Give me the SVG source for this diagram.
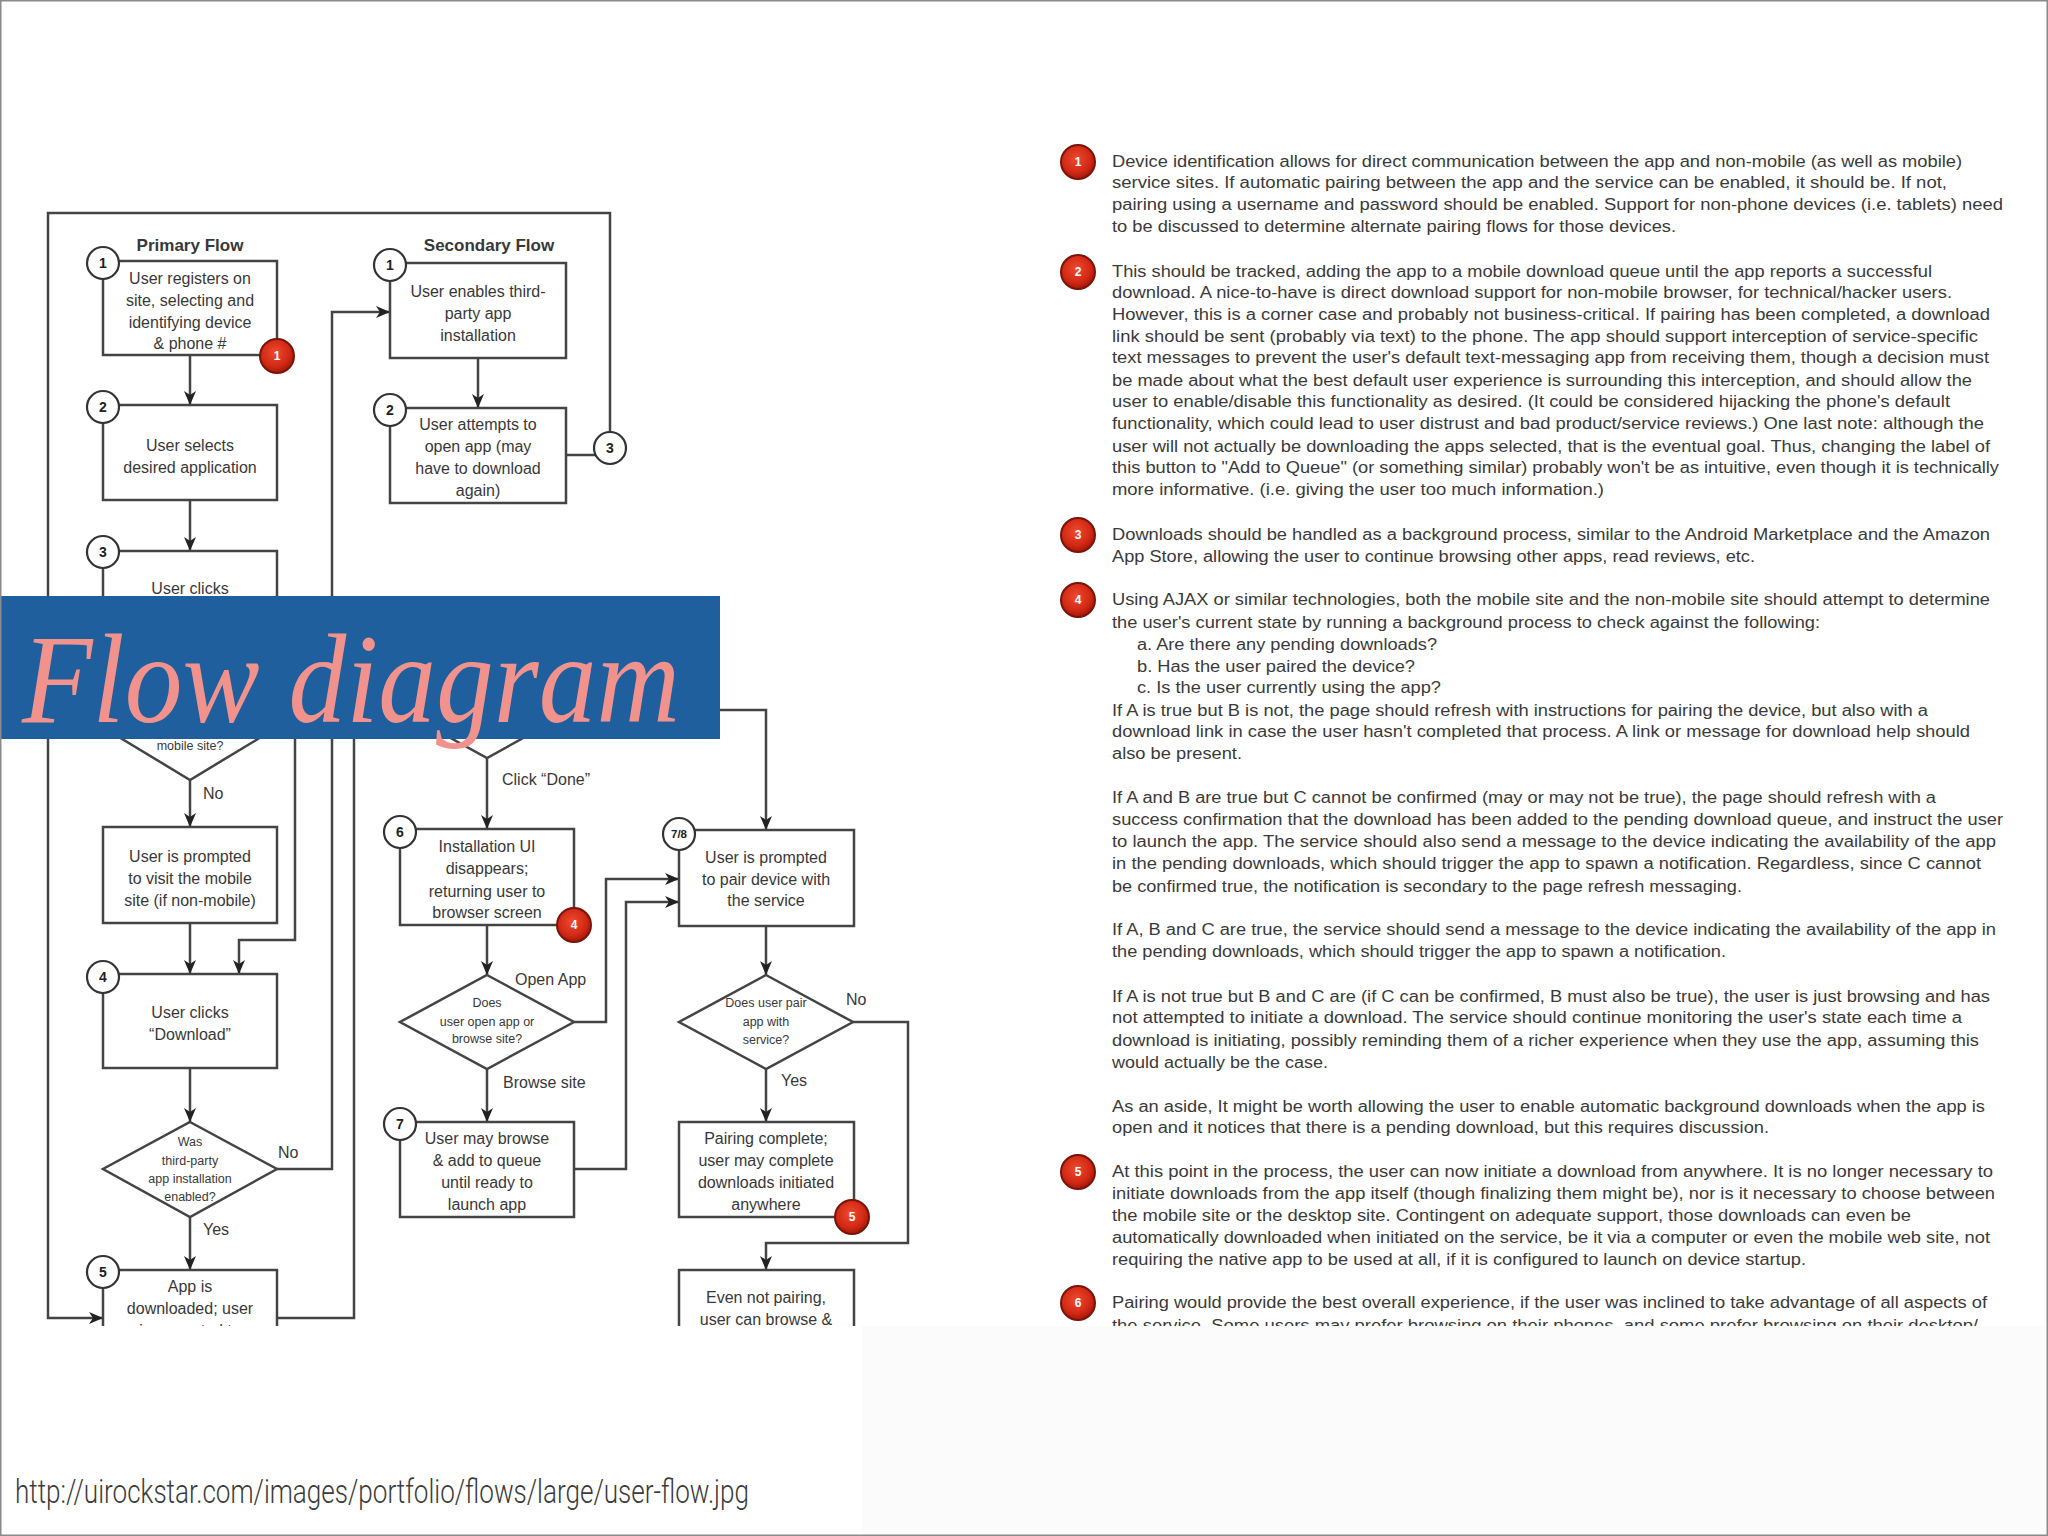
<svg xmlns="http://www.w3.org/2000/svg" width="2048" height="1536" viewBox="0 0 2048 1536">
<defs>
<style>
.box{fill:#fff;stroke:#444;stroke-width:2.5}
.dia{fill:#fff;stroke:#444;stroke-width:2.5}
.ln{fill:none;stroke:#444;stroke-width:2.5}
.arr{marker-end:url(#ah)}
.t{font-family:"Liberation Sans",Arial,sans-serif;font-size:16px;fill:#383838;text-anchor:middle}
.ts{font-size:12.5px}
.ttl{font-weight:bold;font-size:17px}
.lbl{font-family:"Liberation Sans",Arial,sans-serif;font-size:16px;fill:#383838}
.num{fill:#fff;stroke:#333;stroke-width:2.2}
.numt{font-family:"Liberation Sans",Arial,sans-serif;font-weight:bold;font-size:14px;fill:#222;text-anchor:middle}
.bdg{fill:url(#rg);stroke:#7a140a;stroke-width:2}
.bt{font-family:"Liberation Sans",Arial,sans-serif;font-weight:bold;font-size:12px;fill:#fff;text-anchor:middle}
.p{font-family:"Liberation Sans",Arial,sans-serif;font-size:16px;fill:#3a3a3a}
</style>
<marker id="ah" markerUnits="userSpaceOnUse" markerWidth="16" markerHeight="14" refX="14" refY="6" orient="auto">
<path d="M0,0 L14,6 L0,12 L4,6 z" fill="#222"/>
</marker>
<radialGradient id="rg" cx="0.45" cy="0.4" r="0.6">
<stop offset="0" stop-color="#f04a30"/>
<stop offset="0.7" stop-color="#d02814"/>
<stop offset="1" stop-color="#a01808"/>
</radialGradient>
<clipPath id="pic"><rect x="0" y="0" width="2048" height="1326"/></clipPath>
</defs>

<rect x="0" y="0" width="2048" height="1536" fill="#fbfbfb"/>
<rect x="0" y="0" width="2048" height="1326" fill="#fff"/>
<rect x="0" y="1326" width="862" height="210" fill="#fff"/>

<g clip-path="url(#pic)">
<g id="connectors">
<path class="ln arr" d="M190,355 V405"/>
<path class="ln arr" d="M190,500 V551"/>
<path class="ln arr" d="M190,650 V676"/>
<path class="ln arr" d="M190,780 V827"/>
<path class="ln arr" d="M276,728 H295 V940 H239 V974"/>
<path class="ln arr" d="M190,923 V974"/>
<path class="ln arr" d="M190,1068 V1122"/>
<path class="ln arr" d="M277,1169 H332 V312 H390"/>
<path class="ln arr" d="M190,1217 V1270"/>
<path class="ln arr" d="M478,358 V408"/>
<path class="ln" d="M566,455 H597"/>
<path class="ln arr" d="M610,432 V213 H48 V1318 H103"/>
<path class="ln arr" d="M277,1318 H354 V710 H400"/>
<path class="ln arr" d="M574,710 H766 V830"/>
<path class="ln arr" d="M487,758 V829"/>
<path class="ln arr" d="M487,925 V975"/>
<path class="ln arr" d="M574,1022 H606 V879 H679"/>
<path class="ln arr" d="M487,1069 V1122"/>
<path class="ln arr" d="M574,1169 H626 V902 H679"/>
<path class="ln arr" d="M766,926 V975"/>
<path class="ln arr" d="M766,1069 V1122"/>
<path class="ln arr" d="M853,1022 H908 V1243 H766 V1270"/>
</g>

<g id="titles">
<text class="t ttl" x="190" y="251">Primary Flow</text>
<text class="t ttl" x="489" y="251">Secondary Flow</text>
</g>

<g id="p1">
<rect class="box" x="103" y="261" width="174" height="94"/>
<text class="t"><tspan x="190" y="284">User registers on</tspan><tspan x="190" y="306">site, selecting and</tspan><tspan x="190" y="328">identifying device</tspan><tspan x="190" y="349">&amp; phone #</tspan></text>
<circle class="num" cx="103" cy="263" r="16"/><text class="numt" x="103" y="268">1</text>
<circle class="bdg" cx="277" cy="356" r="17"/><text class="bt" x="277" y="360">1</text>
</g>

<g id="p2">
<rect class="box" x="103" y="405" width="174" height="95"/>
<text class="t"><tspan x="190" y="451">User selects</tspan><tspan x="190" y="473">desired application</tspan></text>
<circle class="num" cx="103" cy="407" r="16"/><text class="numt" x="103" y="412">2</text>
</g>

<g id="p3">
<rect class="box" x="103" y="551" width="174" height="99"/>
<text class="t" x="190" y="594">User clicks</text>
<circle class="num" cx="103" cy="552" r="16"/><text class="numt" x="103" y="557">3</text>
</g>

<g id="d-mobile">
<polygon class="dia" points="190,676 276,728 190,780 104,728"/>
<text class="t ts" x="190" y="750">mobile site?</text>
</g>

<g id="p-prompt">
<rect class="box" x="103" y="827" width="174" height="96"/>
<text class="t"><tspan x="190" y="862">User is prompted</tspan><tspan x="190" y="884">to visit the mobile</tspan><tspan x="190" y="906">site (if non-mobile)</tspan></text>
</g>

<g id="p4">
<rect class="box" x="103" y="974" width="174" height="94"/>
<text class="t"><tspan x="190" y="1018">User clicks</tspan><tspan x="190" y="1040">“Download”</tspan></text>
<circle class="num" cx="103" cy="977" r="16"/><text class="numt" x="103" y="982">4</text>
</g>

<g id="d-thirdparty">
<polygon class="dia" points="190,1122 277,1169 190,1217 103,1169"/>
<text class="t ts"><tspan x="190" y="1146">Was</tspan><tspan x="190" y="1165">third-party</tspan><tspan x="190" y="1183">app installation</tspan><tspan x="190" y="1201">enabled?</tspan></text>
</g>

<g id="p5">
<rect class="box" x="103" y="1270" width="174" height="100"/>
<text class="t"><tspan x="190" y="1292">App is</tspan><tspan x="190" y="1314">downloaded; user</tspan><tspan x="190" y="1336">is prompted to</tspan></text>
<circle class="num" cx="103" cy="1272" r="16"/><text class="numt" x="103" y="1277">5</text>
</g>

<g id="s1">
<rect class="box" x="390" y="263" width="176" height="95"/>
<text class="t"><tspan x="478" y="297">User enables third-</tspan><tspan x="478" y="319">party app</tspan><tspan x="478" y="341">installation</tspan></text>
<circle class="num" cx="390" cy="265" r="16"/><text class="numt" x="390" y="270">1</text>
</g>

<g id="s2">
<rect class="box" x="390" y="408" width="176" height="95"/>
<text class="t"><tspan x="478" y="430">User attempts to</tspan><tspan x="478" y="452">open app (may</tspan><tspan x="478" y="474">have to download</tspan><tspan x="478" y="496">again)</tspan></text>
<circle class="num" cx="390" cy="410" r="16"/><text class="numt" x="390" y="415">2</text>
</g>

<g id="s3">
<circle class="num" cx="610" cy="448" r="16"/><text class="numt" x="610" y="453">3</text>
</g>

<g id="d-done">
<polygon class="dia" points="487,662 574,710 487,758 400,710"/>
</g>

<g id="s6">
<rect class="box" x="400" y="829" width="174" height="96"/>
<text class="t"><tspan x="487" y="852">Installation UI</tspan><tspan x="487" y="874">disappears;</tspan><tspan x="487" y="897">returning user to</tspan><tspan x="487" y="918">browser screen</tspan></text>
<circle class="num" cx="400" cy="832" r="16"/><text class="numt" x="400" y="837">6</text>
<circle class="bdg" cx="574" cy="925" r="17"/><text class="bt" x="574" y="929">4</text>
</g>

<g id="d-open">
<polygon class="dia" points="487,975 574,1022 487,1069 400,1022"/>
<text class="t ts"><tspan x="487" y="1007">Does</tspan><tspan x="487" y="1026">user open app or</tspan><tspan x="487" y="1043">browse site?</tspan></text>
</g>

<g id="s7">
<rect class="box" x="400" y="1122" width="174" height="95"/>
<text class="t"><tspan x="487" y="1144">User may browse</tspan><tspan x="487" y="1166">&amp; add to queue</tspan><tspan x="487" y="1188">until ready to</tspan><tspan x="487" y="1210">launch app</tspan></text>
<circle class="num" cx="400" cy="1124" r="16"/><text class="numt" x="400" y="1129">7</text>
</g>

<g id="s78">
<rect class="box" x="679" y="830" width="175" height="96"/>
<text class="t"><tspan x="766" y="863">User is prompted</tspan><tspan x="766" y="885">to pair device with</tspan><tspan x="766" y="906">the service</tspan></text>
<circle class="num" cx="679" cy="834" r="16"/><text class="numt" x="679" y="838" style="font-size:11.5px">7/8</text>
</g>

<g id="d-pair">
<polygon class="dia" points="766,975 853,1022 766,1069 679,1022"/>
<text class="t ts"><tspan x="766" y="1007">Does user pair</tspan><tspan x="766" y="1026">app with</tspan><tspan x="766" y="1044">service?</tspan></text>
</g>

<g id="s-paired">
<rect class="box" x="679" y="1122" width="175" height="95"/>
<text class="t"><tspan x="766" y="1144">Pairing complete;</tspan><tspan x="766" y="1166">user may complete</tspan><tspan x="766" y="1188">downloads initiated</tspan><tspan x="766" y="1210">anywhere</tspan></text>
<circle class="bdg" cx="852" cy="1217" r="17"/><text class="bt" x="852" y="1221">5</text>
</g>

<g id="s-notpaired">
<rect class="box" x="679" y="1270" width="175" height="100"/>
<text class="t"><tspan x="766" y="1303">Even not pairing,</tspan><tspan x="766" y="1325">user can browse &amp;</tspan></text>
</g>

<g id="labels">
<text class="lbl" x="203" y="799">No</text>
<text class="lbl" x="278" y="1158">No</text>
<text class="lbl" x="203" y="1235">Yes</text>
<text class="lbl" x="502" y="785">Click “Done”</text>
<text class="lbl" x="515" y="985">Open App</text>
<text class="lbl" x="503" y="1088">Browse site</text>
<text class="lbl" x="846" y="1005">No</text>
<text class="lbl" x="781" y="1086">Yes</text>
</g>

<g id="notes">
<g id="note1">
<circle class="bdg" cx="1078" cy="162" r="17"/><text class="bt" x="1078" y="166">1</text>
<text class="p" x="1112" y="167" textLength="850" lengthAdjust="spacingAndGlyphs">Device identification allows for direct communication between the app and non-mobile (as well as mobile)</text>
<text class="p" x="1112" y="188" textLength="835" lengthAdjust="spacingAndGlyphs">service sites.  If automatic pairing between the app and the service can be enabled, it should be.  If not,</text>
<text class="p" x="1112" y="210" textLength="891" lengthAdjust="spacingAndGlyphs">pairing using a username and password should be enabled.  Support for non-phone devices (i.e. tablets) need</text>
<text class="p" x="1112" y="232" textLength="564" lengthAdjust="spacingAndGlyphs">to be discussed to determine alternate pairing flows for those devices.</text>
</g>
<g id="note2">
<circle class="bdg" cx="1078" cy="272" r="17"/><text class="bt" x="1078" y="276">2</text>
<text class="p" x="1112" y="277" textLength="820" lengthAdjust="spacingAndGlyphs">This should be tracked, adding the app to a mobile download queue until the app reports a successful</text>
<text class="p" x="1112" y="298" textLength="840" lengthAdjust="spacingAndGlyphs">download.  A nice-to-have is direct download support for non-mobile browser, for technical/hacker users.</text>
<text class="p" x="1112" y="320" textLength="878" lengthAdjust="spacingAndGlyphs">However, this is a corner case and probably not business-critical.  If pairing has been completed, a download</text>
<text class="p" x="1112" y="342" textLength="866" lengthAdjust="spacingAndGlyphs">link should be sent (probably via text) to the phone.  The app should support interception of service-specific</text>
<text class="p" x="1112" y="363" textLength="877" lengthAdjust="spacingAndGlyphs">text messages to prevent the user's default text-messaging app from receiving them, though a decision must</text>
<text class="p" x="1112" y="386" textLength="860" lengthAdjust="spacingAndGlyphs">be made about what the best default user experience is surrounding this interception, and should allow the</text>
<text class="p" x="1112" y="407" textLength="838" lengthAdjust="spacingAndGlyphs">user to enable/disable this functionality as desired.  (It could be considered hijacking the phone's default</text>
<text class="p" x="1112" y="429" textLength="872" lengthAdjust="spacingAndGlyphs">functionality, which could lead to user distrust and bad product/service reviews.)  One last note: although the</text>
<text class="p" x="1112" y="452" textLength="878" lengthAdjust="spacingAndGlyphs">user will not actually be downloading the apps selected, that is the eventual goal. Thus, changing the label of</text>
<text class="p" x="1112" y="473" textLength="887" lengthAdjust="spacingAndGlyphs">this button to "Add to Queue" (or something similar) probably won't be as intuitive, even though it is technically</text>
<text class="p" x="1112" y="495" textLength="492" lengthAdjust="spacingAndGlyphs">more informative.  (i.e. giving the user too much information.)</text>
</g>
<g id="note3">
<circle class="bdg" cx="1078" cy="535" r="17"/><text class="bt" x="1078" y="539">3</text>
<text class="p" x="1112" y="540" textLength="878" lengthAdjust="spacingAndGlyphs">Downloads should be handled as a background process, similar to the Android Marketplace and the Amazon</text>
<text class="p" x="1112" y="562" textLength="643" lengthAdjust="spacingAndGlyphs">App Store, allowing the user to continue browsing other apps, read reviews, etc.</text>
</g>
<g id="note4">
<circle class="bdg" cx="1078" cy="600" r="17"/><text class="bt" x="1078" y="604">4</text>
<text class="p" x="1112" y="605" textLength="878" lengthAdjust="spacingAndGlyphs">Using AJAX or similar technologies, both the mobile site and the non-mobile site should attempt to determine</text>
<text class="p" x="1112" y="628" textLength="708" lengthAdjust="spacingAndGlyphs">the user's current state by running a background process to check against the following:</text>
<text class="p" x="1137" y="650" textLength="300" lengthAdjust="spacingAndGlyphs">a. Are there any pending downloads?</text>
<text class="p" x="1137" y="672" textLength="278" lengthAdjust="spacingAndGlyphs">b. Has the user paired the device?</text>
<text class="p" x="1137" y="693" textLength="304" lengthAdjust="spacingAndGlyphs">c. Is the user currently using the app?</text>
<text class="p" x="1112" y="716" textLength="816" lengthAdjust="spacingAndGlyphs">If A is true but B is not, the page should refresh with instructions for pairing the device, but also with a</text>
<text class="p" x="1112" y="737" textLength="858" lengthAdjust="spacingAndGlyphs">download link in case the user hasn't completed that process.  A link or message for download help should</text>
<text class="p" x="1112" y="759" textLength="130" lengthAdjust="spacingAndGlyphs">also be present.</text>
<text class="p" x="1112" y="803" textLength="824" lengthAdjust="spacingAndGlyphs">If A and B are true but C cannot be confirmed (may or may not be true), the page should refresh with a</text>
<text class="p" x="1112" y="825" textLength="891" lengthAdjust="spacingAndGlyphs">success confirmation that the download has been added to the pending download queue, and instruct the user</text>
<text class="p" x="1112" y="847" textLength="884" lengthAdjust="spacingAndGlyphs">to launch the app.  The service should also send a message to the device indicating the availability of the app</text>
<text class="p" x="1112" y="869" textLength="869" lengthAdjust="spacingAndGlyphs">in the pending downloads, which should trigger the app to spawn a notification.  Regardless, since C cannot</text>
<text class="p" x="1112" y="892" textLength="630" lengthAdjust="spacingAndGlyphs">be confirmed true, the notification is secondary to the page refresh messaging.</text>
<text class="p" x="1112" y="935" textLength="884" lengthAdjust="spacingAndGlyphs">If A, B and C are true, the service should send a message to the device indicating the availability of the app in</text>
<text class="p" x="1112" y="957" textLength="614" lengthAdjust="spacingAndGlyphs">the pending downloads, which should trigger the app to spawn a notification.</text>
<text class="p" x="1112" y="1002" textLength="878" lengthAdjust="spacingAndGlyphs">If A is not true but B and C are (if C can be confirmed, B must also be true), the user is just browsing and has</text>
<text class="p" x="1112" y="1023" textLength="850" lengthAdjust="spacingAndGlyphs">not attempted to initiate a download.  The service should continue monitoring the user's state each time a</text>
<text class="p" x="1112" y="1046" textLength="867" lengthAdjust="spacingAndGlyphs">download is initiating, possibly reminding them of a richer experience when they use the app, assuming this</text>
<text class="p" x="1112" y="1068" textLength="216" lengthAdjust="spacingAndGlyphs">would actually be the case.</text>
<text class="p" x="1112" y="1112" textLength="873" lengthAdjust="spacingAndGlyphs">As an aside, It might be worth allowing the user to enable automatic background downloads when the app is</text>
<text class="p" x="1112" y="1133" textLength="657" lengthAdjust="spacingAndGlyphs">open and it notices that there is a pending download, but this requires discussion.</text>
</g>
<g id="note5">
<circle class="bdg" cx="1078" cy="1172" r="17"/><text class="bt" x="1078" y="1176">5</text>
<text class="p" x="1112" y="1177" textLength="881" lengthAdjust="spacingAndGlyphs">At this point in the process, the user can now initiate a download from anywhere.  It is no longer necessary to</text>
<text class="p" x="1112" y="1199" textLength="883" lengthAdjust="spacingAndGlyphs">initiate downloads from the app itself (though finalizing them might be), nor is it necessary to choose between</text>
<text class="p" x="1112" y="1221" textLength="799" lengthAdjust="spacingAndGlyphs">the mobile site or the desktop site.  Contingent on adequate support, those downloads can even be</text>
<text class="p" x="1112" y="1243" textLength="878" lengthAdjust="spacingAndGlyphs">automatically downloaded when initiated on the service, be it via a computer or even the mobile web site, not</text>
<text class="p" x="1112" y="1265" textLength="694" lengthAdjust="spacingAndGlyphs">requiring the native app to be used at all, if it is configured to launch on device startup.</text>
</g>
<g id="note6">
<circle class="bdg" cx="1078" cy="1303" r="17"/><text class="bt" x="1078" y="1307">6</text>
<text class="p" x="1112" y="1308" textLength="875" lengthAdjust="spacingAndGlyphs">Pairing would provide the best overall experience, if the user was inclined to take advantage of all aspects of</text>
<text class="p" x="1112" y="1331" textLength="866" lengthAdjust="spacingAndGlyphs">the service.  Some users may prefer browsing on their phones, and some prefer browsing on their desktop/</text>
</g>
</g>
</g>

<g id="banner">
<rect x="0" y="596" width="720" height="143" fill="#1f5f9e"/>
<text x="22" y="722" textLength="658" lengthAdjust="spacingAndGlyphs" style="font-family:'Liberation Serif','DejaVu Serif',serif;font-style:italic;font-size:128px;fill:#f2928c">Flow diagram</text>
</g>

<text x="15" y="1503" textLength="734" lengthAdjust="spacingAndGlyphs" style="font-family:Roboto,'Liberation Sans',sans-serif;font-weight:300;font-size:33px;fill:#3a3a3a">http://uirockstar.com/images/portfolio/flows/large/user-flow.jpg</text>

<rect x="0.75" y="0.75" width="2046.5" height="1534.5" fill="none" stroke="#8a8a8a" stroke-width="1.5"/>
</svg>
